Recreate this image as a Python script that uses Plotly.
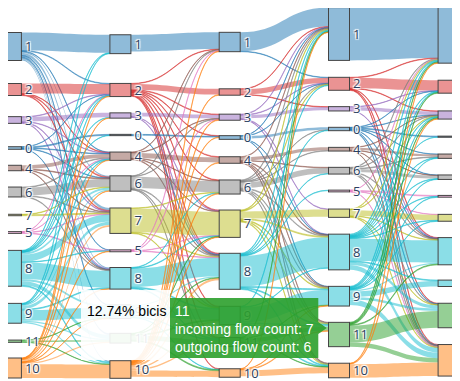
import plotly.graph_objects as go

# ---------------- data ----------------
CLUSTERS = ["1", "2", "3", "0", "4", "6", "7", "5", "8", "9", "11", "10"]
STEP_CLUSTERS = [
    CLUSTERS,
    CLUSTERS,
    [c for c in CLUSTERS if c != "5"],
    CLUSTERS,
    CLUSTERS,
]

FLOWS_1_2 = [
    ("1", "1", 112), ("1", "2", 4), ("1", "4", 3), ("1", "6", 8), ("1", "7", 16), ("1", "8", 8),
    ("1", "9", 4), ("1", "11", 10), ("1", "10", 8), ("1", "5", 2),
    ("2", "2", 62), ("2", "4", 3), ("2", "6", 5), ("2", "7", 5),
    ("3", "3", 28), ("3", "2", 3), ("3", "4", 3), ("3", "7", 4), ("3", "8", 4),
    ("0", "0", 6), ("0", "2", 2), ("0", "4", 3), ("0", "6", 3), ("0", "8", 2),
    ("4", "4", 24), ("4", "6", 4), ("4", "7", 3), ("4", "8", 3),
    ("6", "6", 50), ("6", "4", 4), ("6", "7", 4), ("6", "8", 4),
    ("7", "7", 6), ("7", "6", 3),
    ("5", "5", 4), ("5", "2", 2), ("5", "7", 3), ("5", "4", 2),
    ("8", "8", 106), ("8", "9", 12), ("8", "7", 45), ("8", "6", 12), ("8", "11", 25), ("8", "4", 4),
    ("8", "2", 3), ("8", "10", 6), ("8", "5", 3), ("8", "1", 3), ("8", "3", 3), ("8", "0", 2),
    ("9", "9", 66), ("9", "8", 5), ("9", "11", 8), ("9", "10", 8), ("9", "7", 20), ("9", "6", 8),
    ("9", "4", 3), ("9", "2", 3), ("9", "1", 3),
    ("11", "11", 10), ("11", "10", 2), ("11", "9", 2),
    ("10", "10", 86), ("10", "7", 12), ("10", "6", 3), ("10", "4", 3), ("10", "2", 3), ("10", "8", 3),
    ("10", "11", 8), ("10", "3", 2), ("10", "9", 2), ("10", "5", 3),
]

FLOWS_2_3 = [
    ("1", "1", 105),
    ("2", "2", 36), ("2", "1", 3), ("2", "3", 4), ("2", "0", 4), ("2", "4", 4), ("2", "6", 4),
    ("2", "7", 5), ("2", "8", 6), ("2", "9", 5), ("2", "11", 4), ("2", "10", 4),
    ("3", "3", 22), ("3", "7", 3), ("3", "8", 3),
    ("0", "0", 5), ("0", "8", 3),
    ("4", "4", 32), ("4", "1", 3), ("4", "3", 3), ("4", "6", 3), ("4", "7", 3), ("4", "8", 4),
    ("6", "6", 70), ("6", "1", 3), ("6", "3", 3), ("6", "8", 5), ("6", "9", 4), ("6", "11", 3),
    ("7", "7", 148), ("7", "8", 4), ("7", "9", 4), ("7", "6", 3),
    ("5", "1", 3), ("5", "3", 2), ("5", "7", 2), ("5", "8", 3),
    ("8", "8", 115), ("8", "9", 6), ("8", "7", 4), ("8", "6", 3), ("8", "11", 5),
    ("9", "9", 65), ("9", "8", 8), ("9", "11", 5), ("9", "10", 3),
    ("11", "11", 30), ("11", "9", 6), ("11", "10", 6), ("11", "8", 4), ("11", "7", 3),
    ("10", "10", 40), ("10", "1", 4), ("10", "3", 4), ("10", "0", 3), ("10", "7", 3), ("10", "8", 14),
    ("10", "9", 10), ("10", "11", 10), ("10", "6", 5), ("10", "4", 4), ("10", "2", 4),
]

FLOWS_3_4 = [
    ("1", "1", 118), ("1", "2", 3),
    ("2", "2", 32), ("2", "3", 3), ("2", "1", 3),
    ("3", "3", 20), ("3", "1", 4), ("3", "2", 3), ("3", "8", 3), ("3", "7", 3),
    ("0", "0", 15), ("0", "1", 2), ("0", "2", 2), ("0", "8", 2), ("0", "9", 2),
    ("4", "4", 20), ("4", "1", 4), ("4", "6", 3), ("4", "8", 4), ("4", "9", 4), ("4", "11", 3), ("4", "10", 3),
    ("6", "6", 35), ("6", "1", 5), ("6", "2", 4), ("6", "8", 5), ("6", "9", 5), ("6", "11", 5),
    ("6", "10", 4), ("6", "0", 3), ("6", "4", 3),
    ("7", "7", 45), ("7", "1", 5), ("7", "2", 4), ("7", "8", 6), ("7", "9", 5), ("7", "11", 5), ("7", "10", 5),
    ("8", "8", 190), ("8", "1", 5), ("8", "2", 4), ("8", "0", 3), ("8", "9", 6), ("8", "11", 6),
    ("8", "10", 5), ("8", "5", 3), ("8", "6", 3),
    ("9", "9", 95), ("9", "11", 8), ("9", "10", 5), ("9", "1", 4), ("9", "8", 3),
    ("11", "11", 25), ("11", "10", 3), ("11", "9", 3), ("11", "1", 3),
    ("10", "10", 38), ("10", "11", 4), ("10", "9", 3), ("10", "1", 2),
]

FLOWS_4_5 = [
    ("1", "1", 330),
    ("2", "2", 65), ("2", "1", 3), ("2", "3", 3), ("2", "8", 3), ("2", "10", 4), ("2", "11", 3),
    ("3", "3", 22), ("3", "2", 2), ("3", "8", 3),
    ("0", "0", 5), ("0", "2", 2), ("0", "3", 2), ("0", "4", 2), ("0", "6", 2), ("0", "8", 2),
    ("0", "10", 3), ("0", "11", 3),
    ("4", "4", 15), ("4", "3", 2), ("4", "8", 2), ("4", "10", 2), ("4", "6", 2),
    ("6", "6", 18), ("6", "1", 4), ("6", "3", 3), ("6", "4", 4), ("6", "8", 4), ("6", "10", 5), ("6", "11", 4),
    ("5", "5", 5), ("5", "1", 2), ("5", "7", 2), ("5", "10", 2),
    ("7", "7", 35), ("7", "1", 4), ("7", "3", 3), ("7", "8", 3), ("7", "10", 4), ("7", "11", 3),
    ("8", "8", 140), ("8", "1", 6), ("8", "2", 4), ("8", "3", 4), ("8", "4", 3), ("8", "0", 2), ("8", "5", 3),
    ("8", "7", 3), ("8", "9", 5), ("8", "10", 30), ("8", "11", 20), ("8", "6", 3),
    ("9", "9", 35), ("9", "1", 5), ("9", "2", 3), ("9", "3", 4), ("9", "10", 35), ("9", "11", 15),
    ("9", "8", 8), ("9", "7", 3), ("9", "4", 3), ("9", "5", 3), ("9", "6", 3),
    ("11", "11", 105), ("11", "10", 27), ("11", "1", 5), ("11", "2", 5), ("11", "3", 5), ("11", "8", 5),
    ("10", "10", 85), ("10", "1", 3), ("10", "3", 3),
]
TRANSITIONS = [FLOWS_1_2, FLOWS_2_3, FLOWS_3_4, FLOWS_4_5]

HOVER_NAME = "12.74% bicis"
HOVER_TEXT = "11<br>incoming flow count: 7<br>outgoing flow count: 6"

# ---------------- style / layout ----------------
W, H = 460, 381
PAGE_OFF = 8    # the page places the figure 8 px from the window corner
BASE_RGB = {
    "1": (31, 119, 180), "0": (31, 119, 180), "2": (214, 39, 40), "3": (148, 103, 189),
    "4": (140, 86, 75), "6": (127, 127, 127), "7": (188, 189, 34), "5": (227, 119, 194),
    "8": (23, 190, 207), "9": (23, 190, 207), "11": (44, 160, 44), "10": (255, 127, 14),
}
THICK = 21
COL_CENTER_PX = [10.9, 120.4, 229.7, 339.0, 448.6]
NODE_CENTER_PX = [
    {"1": 46.5, "2": 89.5, "3": 120, "0": 148, "4": 168, "6": 192, "7": 215, "5": 232.5,
     "8": 268.3, "9": 313.3, "11": 341.2, "10": 368},
    {"1": 44.2, "2": 90, "3": 115.5, "0": 135, "4": 156.2, "6": 183.5, "7": 220.7, "5": 250.8,
     "8": 278.3, "9": 311.7, "11": 338.2, "10": 369.5},
    {"1": 42, "2": 92, "3": 117.2, "0": 137.5, "4": 160, "6": 187, "7": 223.7,
     "8": 271.3, "9": 315.5, "11": 342, "10": 373},
    {"1": 34, "2": 83.8, "3": 108.8, "0": 129, "4": 149.2, "6": 170.7, "5": 191, "7": 213.2,
     "8": 252, "9": 296.2, "11": 334.5, "10": 370.5},
    {"1": 34.2, "2": 86.7, "3": 115, "0": 136.7, "4": 156.2, "6": 177.2, "5": 196.3, "7": 217.8,
     "8": 251.2, "9": 283.3, "11": 315.5, "10": 360.3},
]
KY = 0.16       # px per unit

# ---------------- build ----------------
index = {}
labels, node_colors, node_x, node_y = [], [], [], []
for s, clist in enumerate(STEP_CLUSTERS):
    for c in clist:
        index[(s, c)] = len(labels)
        labels.append(c if s < len(STEP_CLUSTERS) - 1 else "")
        r, g, b = BASE_RGB[c]
        node_colors.append(f"rgb({(r + 255) // 2},{(g + 255) // 2},{(b + 255) // 2})")
        node_x.append((COL_CENTER_PX[s] - PAGE_OFF) / W)
        node_y.append((NODE_CENTER_PX[s][c] - PAGE_OFF) / H)

src, tgt, val, lcol = [], [], [], []
inflow = [0] * len(labels)
outflow = [0] * len(labels)
for s, flows in enumerate(TRANSITIONS):
    for a, b, v in flows:
        i, j = index[(s, a)], index[(s + 1, b)]
        src.append(i); tgt.append(j); val.append(v)
        outflow[i] += v; inflow[j] += v
        r, g, bb = BASE_RGB[a]
        lcol.append(f"rgba({r},{g},{bb},0.5)")

pads = []
for s, clist in enumerate(STEP_CLUSTERS):
    tot = sum(max(inflow[index[(s, c)]], outflow[index[(s, c)]]) for c in clist)
    pads.append((H - KY * tot) / (len(clist) - 1))
pad = min(pads)

fig = go.Figure(go.Sankey(
    arrangement="fixed",
    node=dict(label=labels, color=node_colors, x=node_x, y=node_y, pad=pad, thickness=THICK,
              line=dict(color="#444", width=1)),
    link=dict(source=src, target=tgt, value=val, color=lcol),
    textfont=dict(size=13),
    hoverinfo="none",
))


def px(x):
    return (x - PAGE_OFF) / W


def py(y):
    return 1 - (y - PAGE_OFF) / H


fig.add_shape(type="rect", xref="paper", yref="paper", x0=px(81), x1=px(170), y0=py(290), y1=py(360),
              fillcolor="rgba(255,255,255,0.9)", line=dict(width=0), layer="above")
path = "M {} {} L {} {} L {} {} L {} {} L {} {} L {} {} L {} {} Z".format(
    px(170), py(298), px(318.3), py(298), px(318.3), py(322), px(326.7), py(328),
    px(318.3), py(334), px(318.3), py(358), px(170), py(358))
fig.add_shape(type="path", xref="paper", yref="paper", path=path,
              fillcolor="rgba(44,160,44,0.9)", line=dict(width=0), layer="above")
fig.add_annotation(xref="paper", yref="paper", x=px(126.7), y=py(310.5), text=HOVER_NAME,
                   showarrow=False, xanchor="center", yanchor="middle",
                   font=dict(family="Liberation Sans, Arial", size=14, color="black"))
fig.add_annotation(xref="paper", yref="paper", x=px(173), y=py(328.5), text=HOVER_TEXT,
                   showarrow=False, xanchor="left", yanchor="middle", align="left",
                   font=dict(family="Liberation Sans, Arial", size=14, color="white"))

fig.update_layout(width=W, height=H, margin=dict(l=0, r=0, t=0, b=0),
                  paper_bgcolor="white", plot_bgcolor="white")
fig.write_html("out.html")
